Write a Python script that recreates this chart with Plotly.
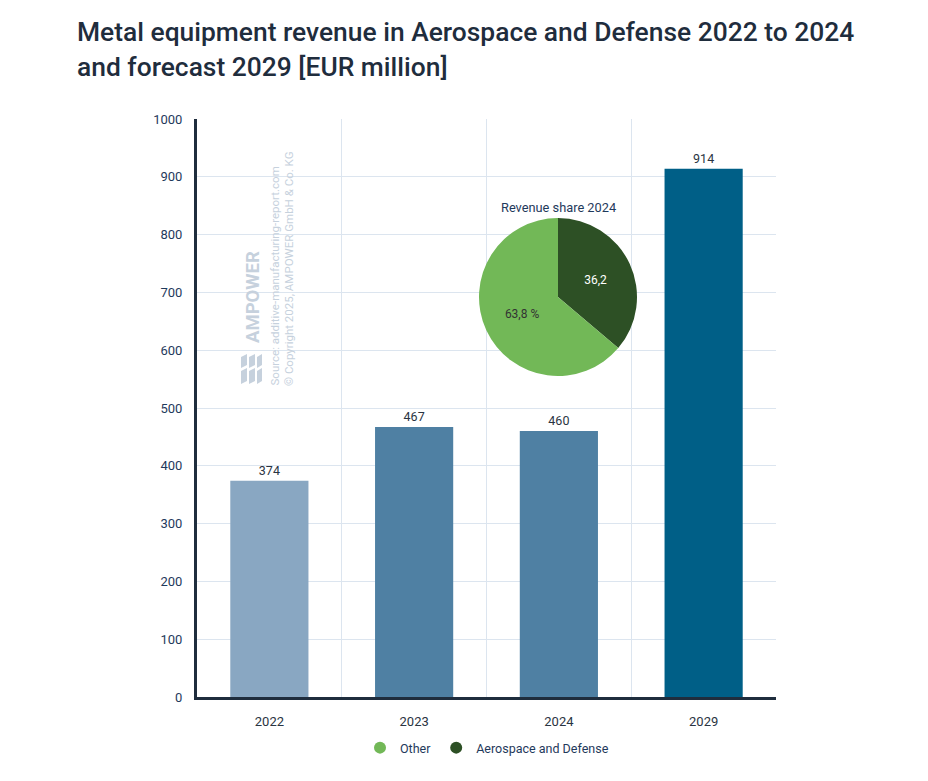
import plotly.graph_objects as go

years = ["2022", "2023", "2024", "2029"]
revenue = [374, 467, 460, 914]
bar_colors = ["#89A7C2", "#4F80A3", "#4F80A3", "#005F87"]

pie_labels = ["Other", "Aerospace and Defense"]
pie_values = [63.8, 36.2]
pie_text = ["63,8 %", "36,2"]
pie_colors = ["#72B857", "#2D5025"]
pie_text_colors = ["#333333", "#FFFFFF"]

y_ticks = list(range(0, 1001, 100))

# page body has an 8px margin: figure coords = screen coords - 8
OFF = 8
W, H = 928 - 2 * OFF, 781 - OFF
L = 197 - OFF
T = 119 - OFF
R = W - (776 - OFF)
B = H - (697 - OFF)
pw, ph = W - L - R, H - T - B

def px(x):
    return (x - OFF - L) / pw

def py(y):
    return (H - B - (y - OFF)) / ph

FONT = "Roboto"
NAVY = "#1F3A5C"
WM = "#C6D1DD"

fig = go.Figure()

fig.add_trace(go.Bar(
    x=list(range(len(years))), y=revenue,
    marker=dict(color=bar_colors, line=dict(width=0)),
    width=0.54,
    text=[str(v) for v in revenue], textposition="outside",
    textfont=dict(family=FONT, size=12.5, color="#2A3442"),
    cliponaxis=False, showlegend=False, hoverinfo="skip",
))

# slices drawn clockwise from 12 o'clock: Aerospace first (right), Other (left)
fig.add_trace(go.Pie(
    labels=pie_labels[::-1], values=pie_values[::-1], text=pie_text[::-1],
    textinfo="text", textposition="inside", insidetextorientation="horizontal",
    marker=dict(colors=pie_colors[::-1], line=dict(width=0)),
    textfont=dict(family=FONT, size=12, color=pie_text_colors[::-1]),
    sort=False, direction="clockwise", rotation=0,
    domain=dict(x=[px(479), px(637)], y=[py(376), py(218)]),
    showlegend=False, hoverinfo="skip",
))

for lab, col in zip(pie_labels, pie_colors):
    fig.add_trace(go.Scatter(
        x=[None], y=[None], mode="markers", name=lab,
        marker=dict(symbol="circle", size=11, color=col),
    ))

# small AMPOWER logo mark (decoration)
def seg(x0, y0, x1, y1, sl):
    return (f"M {px(x0)} {py(y1)} L {px(x1)} {py(y1 - sl)} "
            f"L {px(x1)} {py(y0 - sl)} L {px(x0)} {py(y0)} Z")

logo_shapes = []
for (x0, x1) in [(241, 247), (249, 255), (257, 262)]:
    for (y0, y1) in [(357, 368), (371, 384)]:
        logo_shapes.append(dict(type="path", xref="paper", yref="paper",
                                path=seg(x0, y0, x1, y1, 3), fillcolor=WM,
                                line=dict(width=0), layer="above"))

grid = "#DCE5EF"
fig.update_layout(
    width=W, height=H,
    margin=dict(l=L, r=R, t=T, b=B),
    paper_bgcolor="white", plot_bgcolor="white",
    font=dict(family=FONT, color=NAVY),
    bargap=0.46,
    shapes=logo_shapes,
    xaxis=dict(
        range=[-0.5, 3.5], tickmode="array", tickvals=list(range(len(years))), ticktext=years,
        showgrid=False, zeroline=False, showline=True, linecolor="#1F2D3D", linewidth=3,
        ticks="", tickfont=dict(family=FONT, size=13, color="#2A3442"), ticklabelstandoff=10,
        minor=dict(tick0=0.5, dtick=1, showgrid=True, gridcolor=grid, gridwidth=1),
        fixedrange=True,
    ),
    yaxis=dict(
        range=[0, 1000], tickmode="array", tickvals=y_ticks,
        showgrid=True, gridcolor=grid, gridwidth=1, zeroline=False,
        showline=True, linecolor="#1F2D3D", linewidth=3, ticks="",
        tickfont=dict(family=FONT, size=13, color=NAVY), ticklabelstandoff=9,
        fixedrange=True,
    ),
    legend=dict(
        orientation="h", x=px(487), xanchor="center", y=py(748), yanchor="middle",
        font=dict(family=FONT, size=12.5, color=NAVY), itemsizing="constant",
        traceorder="normal", itemwidth=30,
    ),
    annotations=[
        dict(text="Metal equipment revenue in Aerospace and Defense 2022 to 2024", x=px(75), y=py(32),
             xref="paper", yref="paper", xanchor="left", yanchor="middle", showarrow=False,
             font=dict(family=FONT, size=26.4, color="#1F2D3D", weight=500)),
        dict(text="and forecast 2029 [EUR million]", x=px(75), y=py(67),
             xref="paper", yref="paper", xanchor="left", yanchor="middle", showarrow=False,
             font=dict(family=FONT, size=26.4, color="#1F2D3D", weight=500)),
        dict(text="Revenue share 2024", x=px(558), y=py(198), xref="paper", yref="paper",
             showarrow=False, font=dict(family=FONT, size=12.8, color=NAVY)),
        dict(text="<b>AMPOWER</b>", x=px(253), y=py(345), xref="paper", yref="paper",
             textangle=-90, xanchor="center", yanchor="bottom", showarrow=False,
             font=dict(family=FONT, size=18.5, color=WM)),
        dict(text="Source: additive-manufacturing-report.com", x=px(274), y=py(388), xref="paper", yref="paper",
             textangle=-90, xanchor="center", yanchor="bottom", showarrow=False,
             font=dict(family=FONT, size=11.5, color=WM)),
        dict(text="© Copyright 2025, AMPOWER GmbH & Co. KG", x=px(289), y=py(388), xref="paper", yref="paper",
             textangle=-90, xanchor="center", yanchor="bottom", showarrow=False,
             font=dict(family=FONT, size=11.5, color=WM)),
    ],
)

fig.write_html("out.html")
